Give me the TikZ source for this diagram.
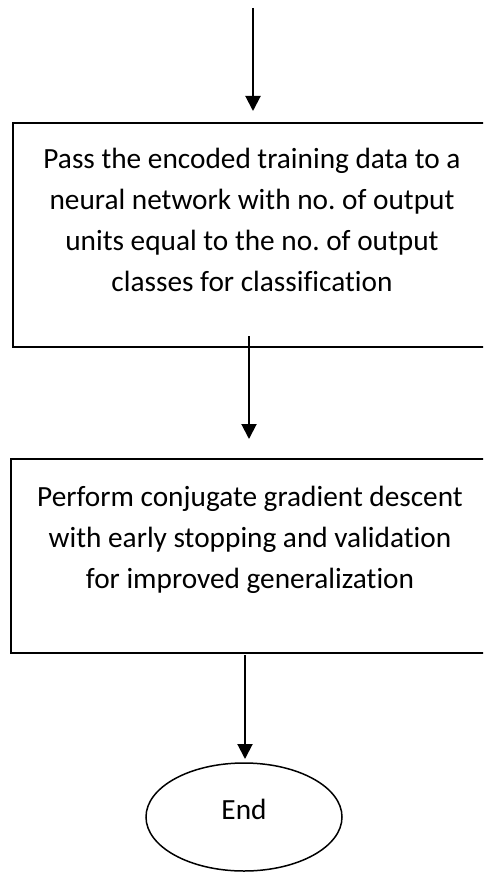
\documentclass[tikz,border=0pt]{standalone}
\usepackage{fontspec}
\setmainfont{Carlito}[Ligatures=NoCommon]
\usetikzlibrary{arrows.meta,shapes.geometric}
\frenchspacing

\tikzset{
  stepbox/.style={draw, line width=2pt, rectangle, inner sep=0pt},
  steptext/.style={align=center, font=\fontsize{29.3}{41}\selectfont, anchor=base, inner sep=0pt},
  flow/.style={line width=2pt, -{Triangle[width=15pt,length=15pt]}},
  terminal/.style={draw, ellipse, line width=1.5pt, inner sep=0pt,
    font=\fontsize{29.3}{34}\selectfont},
}

\begin{document}
\begin{tikzpicture}[x=1pt, y=-1pt]
  \useasboundingbox (0,0) rectangle (483,872);
  \clip (0,0) rectangle (483,872);

  % process boxes (the anchor is the baseline of the last line)
  \node[stepbox, minimum width=478pt, minimum height=224pt] (box1) at (252,235) {};
  \node[steptext] (t1) at (252,291)
    {Pass the encoded training data to a\\neural network with no. of output\\units equal to the no. of output\\classes for classification};

  \node[stepbox, minimum width=478pt, minimum height=194pt] (box2) at (250,556) {};
  \node[steptext] (t2) at (250,588)
    {Perform conjugate gradient descent\\with early stopping and validation\\for improved generalization};

  % terminator, its label sitting a little above the centre
  \node[terminal, minimum width=196pt, minimum height=108pt, text depth=15pt] (stop) at (244,817) {End};

  % connector end points
  \coordinate (in0) at (253,8);
  \coordinate (in1) at (253,111);
  \coordinate (m1) at (249,336);
  \coordinate (m2) at (249,439);
  \coordinate (e1) at (245,655);
  \coordinate (e2) at (245,759);

  \draw[flow] (in0) -- (in1);
  \draw[flow] (m1) -- (m2);
  \draw[flow] (e1) -- (e2);
\end{tikzpicture}
\end{document}
